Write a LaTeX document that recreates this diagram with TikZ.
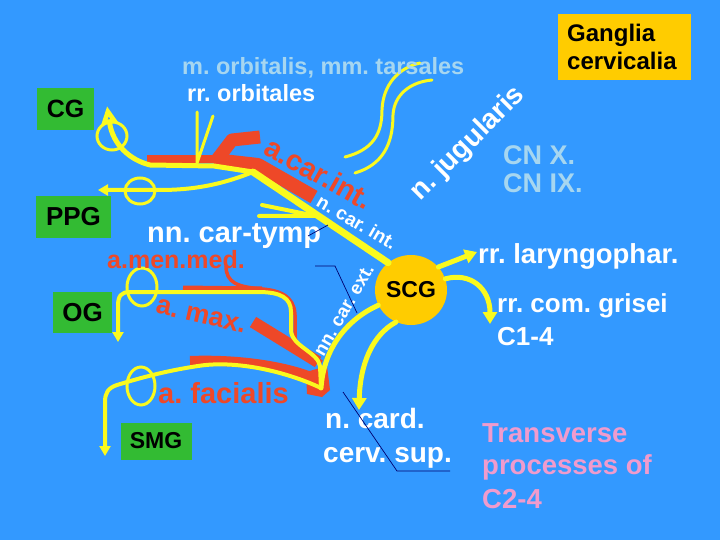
\documentclass[tikz,border=0pt]{standalone}
\usepackage{fontspec}
\setmainfont{Liberation Sans}
\usetikzlibrary{arrows.meta,shapes.geometric}
\definecolor{bgblue}{RGB}{51,153,255}
\definecolor{nyel}{RGB}{250,250,30}
\definecolor{art}{RGB}{238,72,40}
\definecolor{ggreen}{RGB}{51,187,51}
\definecolor{gorange}{RGB}{255,204,0}
\definecolor{lblue}{RGB}{166,214,240}
\definecolor{pinkt}{RGB}{240,155,205}
\definecolor{navyl}{RGB}{0,0,110}
\newcommand{\fsz}[1]{\fontsize{#1}{#1}\selectfont\bfseries}
\frenchspacing
\begin{document}
\begin{tikzpicture}[x=1pt,y=-1pt,
  lbl/.style={inner sep=0pt, anchor=base west},
  rlbl/.style={inner sep=0pt},
  nerve/.style={draw=nyel, line cap=round, line join=round},
  artery/.style={draw=art, line join=round},
  lead/.style={draw=navyl, line width=0.7pt},
  gbox/.style={fill=ggreen, inner sep=0pt, text=black},
  loop/.style={draw=nyel, line width=3pt}]
\fill[bgblue] (0,0) rectangle (720,540);
\useasboundingbox (0,0) rectangle (720,540);

% boxes
\node[gbox,minimum width=57pt,minimum height=42pt,font=\fsz{25}] (CG) at (65.5,109) {CG};
\node[gbox,minimum width=75pt,minimum height=42pt,font=\fsz{26}] (PPG) at (73.5,217) {PPG};
\node[gbox,minimum width=59pt,minimum height=41pt,font=\fsz{26}] (OG) at (82.5,312.5) {OG};
\node[gbox,minimum width=71pt,minimum height=37pt,font=\fsz{23}] (SMG) at (156,441) {SMG};
\node[fill=gorange,minimum width=133pt,minimum height=66pt,inner sep=0pt] (GC) at (624.5,47) {};
\node[lbl,font=\fsz{24}] (gc1) at (567,42) {Ganglia};
\node[lbl,font=\fsz{24}] (gc2) at (567,70) {cervicalia};
\node[ellipse,fill=gorange,minimum width=72pt,minimum height=70pt,inner sep=0pt,font=\fsz{23}] (SCG) at (411,290) {SCG};

% arteries
\draw[artery, line width=8pt] (147,159) -- (216,159);
\draw[artery, line width=14pt] (214,160) -- (258,165) -- (314,197);
\draw[artery, line width=13pt] (216,161) -- (232,140) -- (260,137);
\draw[artery, line width=5pt] (183,288) -- (262,289);
\draw[artery, line width=3.5pt] (226,266) .. controls (226,283) and (238,287) .. (262,289) .. controls (288,291) and (296,302) .. (295,320) -- (295,337) .. controls (296,348) and (310,355) .. (322,362);
\draw[artery, line width=12pt] (253,322) -- (318,362);
\draw[artery, line width=10pt] (190,361) .. controls (240,359) and (290,367) .. (318,380);
\fill[art] (306,372) -- (327,366) -- (330,390) -- (322,397) -- (307,394) -- cycle;

% nerves
\coordinate (jct) at (253,172);
\coordinate (cgtip) at (107,106);
\coordinate (ppgtip) at (98,190);
\coordinate (ecj) at (321,388);
\coordinate (ogtip) at (118,342);
\coordinate (smgtip) at (105,456);
\draw[nerve, line width=7pt] (SCG.130) -- (jct);
\draw[nerve, line width=5pt, -{Triangle[open,length=18pt,width=16pt]}] (jct) -- (214,166) -- (150,165) .. controls (130,160) and (113,145) .. (cgtip);
\draw[nerve, line width=4pt, -{Triangle[length=10pt,width=11pt]}] (jct) .. controls (228,182) and (200,190) .. (160,190) -- (ppgtip);
\draw[nerve, line width=3pt] (197,112) -- (197,163) -- (213,116);
\draw[nerve, line width=4pt] (262,205) -- (316,216) -- (259,216);
\draw[nerve, line width=5pt] (SCG.-155) .. controls (350,318) and (324,345) .. (ecj);
\draw[nerve, line width=4pt, -{Triangle[length=10pt,width=11pt]}] (ecj) -- (320,366) .. controls (318,352) and (291,346) .. (291,330) -- (291,312) .. controls (291,298) and (281,292) .. (258,292) -- (130,292) .. controls (121,292) and (118,296) .. (118,306) -- (ogtip);
\draw[nerve, line width=4pt, -{Triangle[length=10pt,width=11pt]}] (ecj) .. controls (285,371) and (235,360) .. (198,366) .. controls (165,371) and (140,378) .. (117,385) .. controls (108,388) and (105,393) .. (105,402) -- (smgtip);
\draw[loop] (112,136) ellipse [x radius=15pt, y radius=14pt];
\draw[loop] (140,191) ellipse [x radius=15pt, y radius=13pt];
\draw[loop] (142,287) ellipse [x radius=15pt, y radius=19pt];
\draw[loop] (141,386) ellipse [x radius=14pt, y radius=19pt];
\draw[nerve, line width=3pt] (345,157) .. controls (372,150) and (382,135) .. (382,110) .. controls (383,85) and (398,68) .. (420,63);
\draw[nerve, line width=3pt] (355,173) .. controls (382,165) and (393,145) .. (393,115) .. controls (394,95) and (410,82) .. (432,80);
\coordinate (laryt) at (477,252);
\coordinate (grit) at (490,324);
\coordinate (cardt) at (359,410);
\draw[nerve, line width=5pt, -{Triangle[length=12pt,width=14pt]}] (SCG.40) -- (laryt);
\draw[nerve, line width=5pt, -{Triangle[length=12pt,width=14pt]}] (SCG.18) .. controls (470,272) and (490,288) .. (grit);
\draw[nerve, line width=5pt, -{Triangle[length=12pt,width=14pt]}] (SCG.-115) .. controls (372,335) and (360,365) .. (cardt);

% texts
\node[lbl, text=lblue, font=\fsz{23.5}] (tmo) at (182,75) {m. orbitalis, mm. tarsales};
\node[lbl, text=white, font=\fsz{23.5}] (tro) at (187,102) {rr. orbitales};
\node[lbl, text=white, font=\fsz{29}] (tct) at (147,243) {nn. car-tymp};
\node[lbl, text=art, font=\fsz{25}] (tmm) at (107,268) {a.men.med.};
\node[lbl, text=art, font=\fsz{29}] (tfa) at (158,403) {a. facialis};
\node[rlbl, text=art, font=\fsz{27}, rotate=-13] (tmx) at (201,316) {a. max.};
\node[rlbl, text=art, font=\fsz{29}, rotate=-29] (tci) at (319,173) {a.car.int.};
\node[rlbl, text=white, font=\fsz{19}, rotate=-30] (tnci) at (357,222) {n. car. int.};
\node[rlbl, text=white, font=\fsz{18.5}, rotate=60] (tnce) at (344,310) {nn. car. ext.};
\node[rlbl, text=white, font=\fsz{28}, rotate=45] (tju) at (468,144) {n. jugularis};
\node[lbl, text=lblue, font=\fsz{27}] (tcn1) at (503,165) {CN X.};
\node[lbl, text=lblue, font=\fsz{27}] (tcn2) at (503,193) {CN IX.};
\node[lbl, text=white, font=\fsz{27.5}] (tlar) at (478,263) {rr. laryngophar.};
\node[lbl, text=white, font=\fsz{26}] (tgr1) at (497,312) {rr. com. grisei};
\node[lbl, text=white, font=\fsz{26}] (tgr2) at (497,345) {C1-4};
\node[lbl, text=white, font=\fsz{28}] (tcd1) at (325,428) {n. card.};
\node[lbl, text=white, font=\fsz{28}] (tcd2) at (323,462) {cerv. sup.};
\node[lbl, text=pinkt, font=\fsz{27.5}] (ttp1) at (482,442) {Transverse};
\node[lbl, text=pinkt, font=\fsz{27.5}] (ttp2) at (482,474) {processes of};
\node[lbl, text=pinkt, font=\fsz{27.5}] (ttp3) at (482,508) {C2-4};

% leader lines
\coordinate (l1a) at (308,236); \coordinate (l1b) at (328,225);
\coordinate (l2a) at (315,266); \coordinate (l2b) at (335,266); \coordinate (l2c) at (357,313);
\coordinate (l3a) at (343,392); \coordinate (l3b) at (397,471); \coordinate (l3c) at (450,471);
\draw[lead] (l1a) -- (l1b);
\draw[lead] (l2a) -- (l2b) -- (l2c);
\draw[lead] (l3a) -- (l3b) -- (l3c);
\end{tikzpicture}
\end{document}
